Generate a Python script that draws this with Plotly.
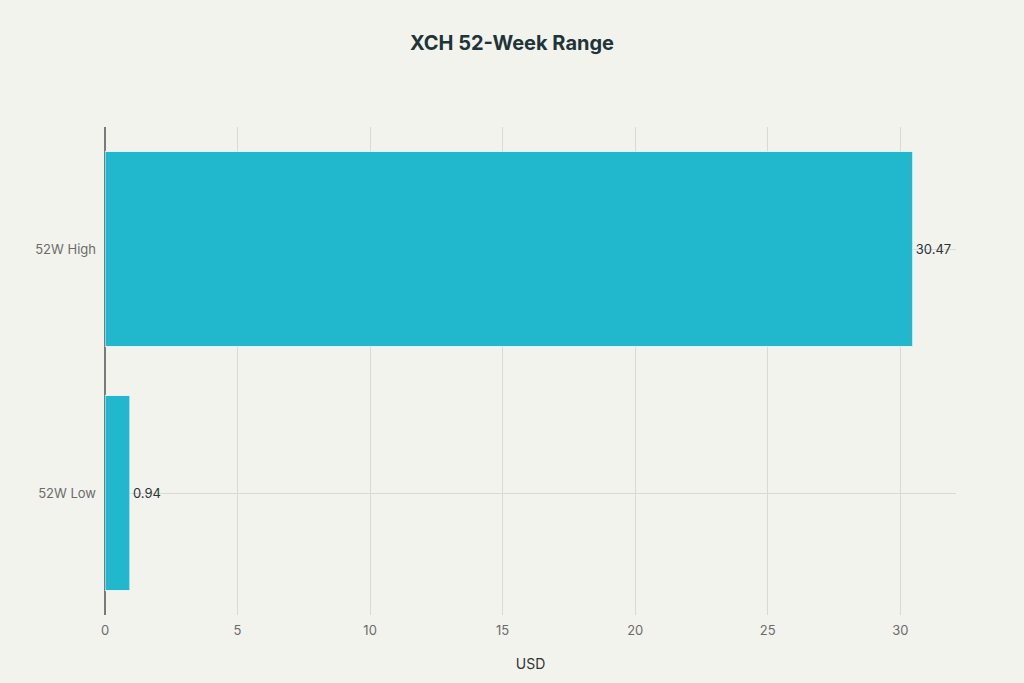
import plotly.graph_objects as go

# 52-week range for XCH
categories = ['52W Low', '52W High']
values = [0.94, 30.47]
value_labels = ['0.94', '30.47']

fig = go.Figure(go.Bar(
    x=values,
    y=categories,
    orientation='h',
    text=value_labels,
    textposition='outside',
    cliponaxis=False,
    textfont=dict(size=13, color='#2a3438'),
    marker=dict(color='#21b8cd', line=dict(color='#e8f6f8', width=1)),
))

fig.update_layout(
    title=dict(text='<b>XCH 52-Week Range</b>', x=0.5, xanchor='center',
               y=0.937, yanchor='middle',
               font=dict(size=20, color='#1e3438', family='Inter')),
    font=dict(family='Inter', size=13, color='#6b6b6b'),
    paper_bgcolor='#f3f3ee',
    plot_bgcolor='#f3f3ee',
    width=1024, height=683,
    margin=dict(l=105, r=68, t=127, b=68),
    bargap=0.2,
    showlegend=False,
)
fig.update_xaxes(
    title=dict(text='USD', font=dict(size=14, color='#333333'), standoff=22),
    range=[0, 32.1],
    dtick=5,
    showgrid=True, gridcolor='#d9d9d6',
    zeroline=True, zerolinecolor='#7a7a7a', zerolinewidth=1.5,
    tickfont=dict(size=13, color='#6b6b6b'),
    ticklabelstandoff=6,
)
fig.update_yaxes(
    showgrid=True, gridcolor='#d9d9d6',
    ticks='', ticklen=0,
    ticklabelstandoff=8,
    tickfont=dict(size=13, color='#6b6b6b'),
)

# drop the default page margin so the chart sits at the window corner
fig.write_html("out.html", config={'displayModeBar': False},
               post_script="document.body.style.margin='0';")
